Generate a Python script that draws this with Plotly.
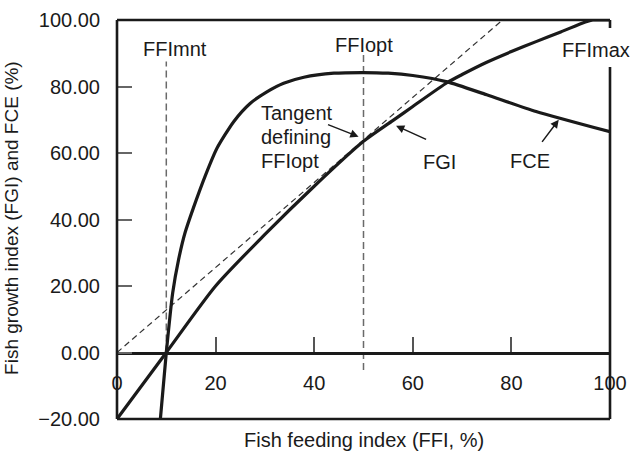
import plotly.graph_objects as go

# Fish feeding index axis values and the two response curves
fgi_x = [0, 10, 20, 30, 40, 50, 56, 60, 67, 70, 75, 80, 85, 90, 95, 96.5, 100]
fgi_y = [-20, 0, 20, 35.5, 50, 63.5, 69.8, 74, 81.2, 83.6, 87.3, 90.5, 93.5, 96.4, 99.4, 100, 100]

fce_x = [8.8, 10, 11.3, 12.5, 13.8, 15.5, 18, 20.3, 23.7, 27, 30.4, 33.8, 37.9, 44, 50, 55, 60, 67, 75, 85, 100]
fce_y = [-20, 0, 18, 28, 36, 43.5, 53.5, 61.5, 69.5, 74.9, 78.4, 81, 82.8, 84, 84.2, 84, 83.3, 81.4, 77.5, 72.5, 66.4]

# Tangent from the origin touching FGI at FFIopt
tangent_x = [0, 78.2]
tangent_y = [0, 100]

# Reference feeding levels
ffi_mnt = 10
ffi_opt = 50
mnt_span = [0, 87.5]
opt_span = [-5.3, 90.5]

x_ticks = [0, 20, 40, 60, 80, 100]
y_ticks = [-20, 0, 20, 40, 60, 80, 100]

INK = "#1a1a1a"
FONT = "Liberation Sans"

fig = go.Figure()

fig.add_trace(go.Scatter(x=[ffi_mnt, ffi_mnt], y=mnt_span, mode="lines",
                         line=dict(color="#6a6a6a", width=1.5, dash="7px,4px")))
fig.add_trace(go.Scatter(x=[ffi_opt, ffi_opt], y=opt_span, mode="lines",
                         line=dict(color="#6a6a6a", width=1.5, dash="7px,4px")))
fig.add_trace(go.Scatter(x=tangent_x, y=tangent_y, mode="lines",
                         line=dict(color="#333333", width=1.2, dash="6px,4px")))
fig.add_trace(go.Scatter(x=fgi_x, y=fgi_y, mode="lines",
                         line=dict(color=INK, width=3.2, shape="spline", smoothing=0.7)))
fig.add_trace(go.Scatter(x=fce_x, y=fce_y, mode="lines",
                         line=dict(color=INK, width=3.2, shape="spline", smoothing=0.6)))

# Frame around the plotting area; the right side is broken where FFImax sits
frame = dict(color=INK, width=2.6)
for x0, y0, x1, y1 in [(0, 0, 0, 1), (0, 1, 1, 1), (0, 0, 1, 0),
                       (1, 0.98, 1, 1), (1, 0, 1, 0.882)]:
    fig.add_shape(type="line", xref="paper", yref="paper",
                  x0=x0, y0=y0, x1=x1, y1=y1, line=frame, layer="above")

txt = dict(family=FONT, size=20, color=INK)

labels = [
    ("FFImnt", 11.7, 91.4),
    ("FFIopt", 50, 92.5),
    ("FGI", 65.5, 57.3),
    ("FCE", 83.8, 57.5),
    ("FFImax", 97.2, 91.1),
]
for t, x, y in labels:
    fig.add_annotation(x=x, y=y, text=t, showarrow=False, font=txt,
                       xanchor="center", yanchor="middle")

for t, y in [("Tangent", 72.0), ("defining", 64.8), ("FFIopt", 57.5)]:
    fig.add_annotation(x=28.8, y=y, text=t, showarrow=False, font=txt,
                       xanchor="left", yanchor="middle")

# Pointer arrows: (head x, head y, tail x, tail y)
arrows = [
    (49.0, 64.9, 42.5, 68.7),
    (56.6, 68.2, 63.0, 63.9),
    (89.6, 70.0, 86.0, 62.9),
]
for hx, hy, tx, ty in arrows:
    fig.add_annotation(x=hx, y=hy, ax=tx, ay=ty, xref="x", yref="y",
                       axref="x", ayref="y", text="", showarrow=True,
                       arrowhead=2, arrowsize=1.1, arrowwidth=1.5,
                       arrowcolor=INK, standoff=0)

# Axis titles
fig.add_annotation(x=0.5, y=-0.0526, xref="paper", yref="paper",
                   text="Fish feeding index (FFI, %)", showarrow=False, font=txt,
                   xanchor="center", yanchor="middle")
fig.add_annotation(x=-0.213, y=0.504, xref="paper", yref="paper",
                   text="Fish growth index (FGI) and FCE (%)", showarrow=False,
                   font=dict(family=FONT, size=19, color=INK), textangle=-90,
                   xanchor="center", yanchor="middle")

fig.update_layout(
    width=632, height=453,
    margin=dict(l=117, r=22, t=20, b=34, autoexpand=False),
    paper_bgcolor="white", plot_bgcolor="white",
    showlegend=False,
    font=txt,
    xaxis=dict(range=[0, 100], tickvals=x_ticks, ticktext=[str(v) for v in x_ticks],
               anchor="free", position=1 / 6, showline=True, linecolor=INK,
               linewidth=2.6, ticks="inside", ticklen=15, tickwidth=1.5,
               tickcolor="#555555", showgrid=False, zeroline=False,
               ticklabelstandoff=12, tickfont=txt, automargin=False),
    yaxis=dict(range=[-20, 100], tickvals=y_ticks, tickformat=".2f",
               showline=False, ticks="inside", ticklen=15, tickwidth=1.5,
               tickcolor="#666666", showgrid=False, zeroline=False,
               ticklabelstandoff=16, tickfont=txt, automargin=False),
)

fig.write_html("out.html")
